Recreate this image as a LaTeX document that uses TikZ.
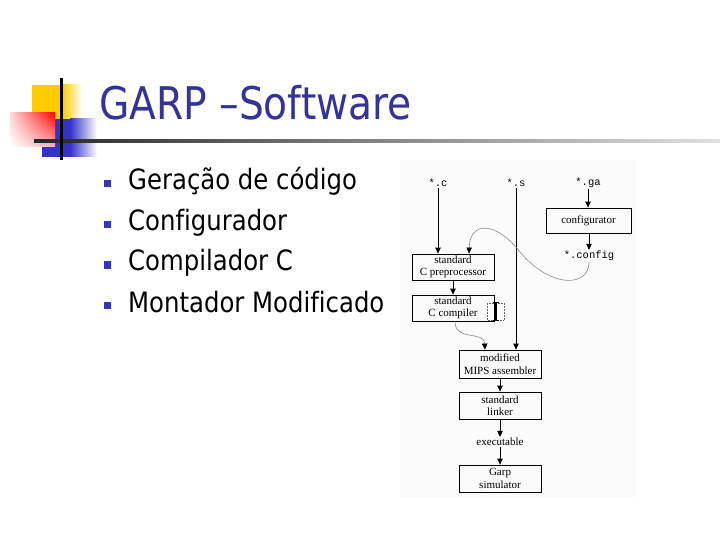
\documentclass[tikz,border=0pt]{standalone}
\usepackage{fontspec}
\setmainfont{Liberation Serif}
\setmonofont{Liberation Mono}
\newfontfamily\slidefont[FakeStretch=0.87,Ligatures=NoCommon]{DejaVu Sans}
\usetikzlibrary{arrows.meta,shadings}
\definecolor{titleblue}{RGB}{51,51,153}
\definecolor{bulletblue}{RGB}{51,51,190}
\definecolor{decoyellow}{RGB}{255,204,0}
\definecolor{decoblue}{RGB}{51,51,204}
\definecolor{decored}{RGB}{255,0,0}
\tikzset{
  procbox/.style={draw, line width=0.8bp, minimum width=82bp, minimum height=26bp,
    align=center, inner sep=0pt, font=\fontsize{11bp}{12.5bp}\selectfont},
  filelabel/.style={inner sep=1bp, font=\ttfamily\fontsize{10.5bp}{12bp}\selectfont},
  plainlabel/.style={inner sep=1bp, font=\fontsize{11bp}{12.5bp}\selectfont},
  arr/.style={-{Triangle[length=6bp,width=5.5bp]}, line width=0.9bp},
  garr/.style={-{Triangle[length=6bp,width=5.5bp,color=black]}, line width=0.6bp, draw=black!45},
  bulletsq/.style={fill=bulletblue, minimum size=7bp, inner sep=0pt},
  bullettext/.style={anchor=base west, inner sep=0pt, text=black,
    font=\slidefont\fontsize{28bp}{30bp}\selectfont},
}
\begin{document}
\begin{tikzpicture}[x=1bp,y=-1bp]
\useasboundingbox (0,0) rectangle (720,540);
\fill[white] (0,0) rectangle (720,540);

% decoration
\fill[decoyellow] (32,85) rectangle (62,119);
\shade[left color=decoyellow, right color=white] (62,85) rectangle (82,119);
\fill[decoblue] (42,119) rectangle (70,157);
\shade[left color=decoblue, right color=white] (70,119) rectangle (97,157);
\shade[upper left=decored!15, upper right=decored, lower left=white, lower right=decored!30] (10,113) rectangle (55,147);
\shade[left color=black!85, right color=black!12] (34,140) rectangle (720,142.5);
\fill[black] (60,78) rectangle (62.5,160);

% title
\node[anchor=base west, inner sep=0pt, text=titleblue,
  font=\slidefont\fontsize{45bp}{48bp}\selectfont] (title) at (99,120) {GARP –Software};

% bullets
\node[bulletsq] (b1) at (107,184) {};
\node[bullettext] (t1) at (128,190) {Geração de código};
\node[bulletsq] (b2) at (107,225) {};
\node[bullettext] (t2) at (128,231) {Configurador};
\node[bulletsq] (b3) at (107,265) {};
\node[bullettext] (t3) at (128,271) {Compilador C};
\node[bulletsq] (b4) at (107,305.5) {};
\node[bullettext] (t4) at (128,312) {Montador Modificado};

% diagram background
\fill[black!1.5] (400,160) rectangle (636,497);

% diagram nodes
\node[filelabel] (sc) at (438,183) {*.c};
\node[filelabel] (ss) at (516,183) {*.s};
\node[filelabel] (sga) at (588,183) {*.ga};
\node[procbox, minimum width=85bp, minimum height=25bp] (conf) at (588.5,220.5) {configurator};
\node[filelabel] (scfg) at (589,256) {*.config};
\node[procbox] (prep) at (453,267) {standard\\C preprocessor};
\node[procbox] (comp) at (453,308) {standard\\C compiler};
\node[procbox, minimum height=28bp] (mips) at (500,364) {modified\\MIPS assembler};
\node[procbox, minimum height=27bp] (link) at (500,405.5) {standard\\linker};
\node[plainlabel] (exe) at (500,442) {executable};
\node[procbox, minimum height=27bp] (garp) at (500,478.5) {Garp\\simulator};

% connectors
\draw[arr] (sc.south) -- (sc.south |- prep.north);
\draw[arr] (ss.south) -- (ss.south |- mips.north);
\draw[arr] (sga.south) -- (sga.south |- conf.north);
\draw[arr] (conf.south -| scfg.north) -- (scfg.north);
\draw[arr] (prep.south) -- (comp.north);
\draw[arr] (mips.south) -- (link.north);
\draw[arr] (link.south) -- (exe.north);
\draw[arr] (exe.south) -- (garp.north);
\draw[garr] (scfg.south) .. controls (589,288) and (550,288) .. (520,252)
  .. controls (497,222) and (470,220) .. ([xshift=16bp]prep.north);
\draw[garr] ([xshift=2bp]comp.south) .. controls (455,342) and (484,330) .. ([xshift=-15bp]mips.north);

% text cursor overlay on compiler box
\draw[densely dotted, black!60, line width=0.5bp] (487,303) rectangle (504,320);
\draw[line width=1.6bp] (496,303) -- (496,320);
\draw[line width=0.6bp] (493,302.5) -- (499,302.5);
\draw[line width=0.6bp] (493,320.5) -- (499,320.5);
\end{tikzpicture}
\end{document}
